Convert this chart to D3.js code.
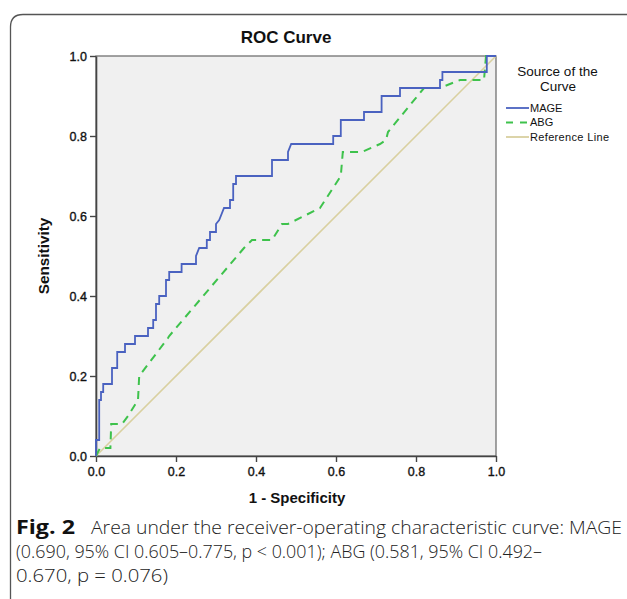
<!DOCTYPE html>
<html><head><meta charset="utf-8">
<script src="https://cdn.jsdelivr.net/npm/d3@7"></script>
<style>
html,body{margin:0;padding:0;background:#fff;}
svg{display:block;}
</style></head>
<body>
<svg id="c" width="627" height="599"></svg>
<script>
// ---- data ----
const mageFpr = [0,0,0.008,0.008,0.0125,0.0125,0.018,0.018,0.04,0.04,0.053,0.053,0.0725,0.0725,0.0975,0.0975,0.13,0.13,0.143,0.143,0.15,0.15,0.158,0.158,0.175,0.175,0.183,0.183,0.214,0.214,0.25,0.25,0.258,0.277,0.277,0.285,0.285,0.30,0.30,0.308,0.32,0.335,0.335,0.343,0.343,0.35,0.35,0.44,0.44,0.48,0.48,0.488,0.593,0.593,0.612,0.612,0.67,0.67,0.714,0.714,0.76,0.76,0.86,0.86,0.866,0.866,0.977,0.977,1];
const mageTpr = [0,0.04,0.04,0.14,0.14,0.16,0.16,0.18,0.18,0.22,0.22,0.26,0.26,0.28,0.28,0.30,0.30,0.32,0.32,0.34,0.34,0.38,0.38,0.40,0.40,0.44,0.44,0.46,0.46,0.48,0.48,0.50,0.52,0.52,0.54,0.54,0.56,0.56,0.58,0.59,0.62,0.62,0.64,0.64,0.68,0.68,0.70,0.70,0.74,0.74,0.76,0.78,0.78,0.80,0.80,0.84,0.84,0.86,0.86,0.90,0.90,0.92,0.92,0.94,0.94,0.96,0.96,1.0,1.0];
const abgFpr = [0,0.01,0.036,0.038,0.065,0.08,0.105,0.108,0.18,0.183,0.37,0.39,0.44,0.465,0.48,0.56,0.612,0.617,0.665,0.71,0.725,0.73,0.82,0.86,0.91,0.97,0.975,1];
const abgTpr = [0,0.02,0.02,0.08,0.08,0.10,0.14,0.20,0.295,0.30,0.52,0.54,0.54,0.58,0.58,0.62,0.70,0.76,0.76,0.78,0.79,0.81,0.92,0.92,0.94,0.94,1.0,1.0];
const refFpr = [0,1];
const refTpr = [0,1];
const tickVals = [0,0.2,0.4,0.6,0.8,1.0];
const seriesNames = ["MAGE","ABG","Reference Line"];
const captionLines = [
  ["Fig. 2", "Area under the receiver-operating characteristic curve: MAGE"],
  ["", "(0.690, 95% CI 0.605\u20130.775, p < 0.001); ABG (0.581, 95% CI 0.492\u2013"],
  ["", "0.670, p = 0.076)"]
];

// ---- layout ----
const svg = d3.select("#c");
const L = 96, R = 496, T = 56, B = 456;
const x = d3.scaleLinear().domain([0,1]).range([L,R]);
const y = d3.scaleLinear().domain([0,1]).range([B,T]);
const sans = "'Liberation Sans', Arial, sans-serif";
const colors = {MAGE:"#4a62c0", ABG:"#3ec24c", ref:"#d9d0a0"};

// outer frame (rounded top-left, open right & bottom)
svg.append("path")
  .attr("d", `M10.5,599 L10.5,27 Q10.5,14.5 23,14.5 L627,14.5`)
  .attr("fill","none").attr("stroke","#555").attr("stroke-width",1.3);

// plot background
svg.append("rect").attr("x",L).attr("y",T).attr("width",R-L).attr("height",B-T)
  .attr("fill","#f0f0f0").attr("stroke","#666").attr("stroke-width",1.2);

// axes
const xAxis = d3.axisBottom(x).tickValues(tickVals).tickFormat(d3.format(".1f")).tickSize(6).tickSizeOuter(0);
const yAxis = d3.axisLeft(y).tickValues(tickVals).tickFormat(d3.format(".1f")).tickSize(6).tickSizeOuter(0);
const gx = svg.append("g").attr("transform",`translate(0,${B})`).call(xAxis);
const gy = svg.append("g").attr("transform",`translate(${L},0)`).call(yAxis);
[gx,gy].forEach(g=>{
  g.select(".domain").attr("stroke","#444").attr("stroke-width",1.6);
  g.selectAll(".tick line").attr("stroke","#444").attr("stroke-width",1.4);
  g.selectAll(".tick text").attr("font-family",sans).attr("font-size",12.5).attr("fill","#111")
    .attr("stroke","#111").attr("stroke-width",0.35);
});
gx.selectAll(".tick text").attr("dy","0.9em");
gy.selectAll(".tick text").attr("x",-9);

// lines
const line = d3.line().x(d=>x(d[0])).y(d=>y(d[1]));
svg.append("path").datum(refFpr.map((v,i)=>[v,refTpr[i]])).attr("d",line)
  .attr("fill","none").attr("stroke",colors.ref).attr("stroke-width",1.6);
svg.append("path").datum(abgFpr.map((v,i)=>[v,abgTpr[i]])).attr("d",line)
  .attr("fill","none").attr("stroke",colors.ABG).attr("stroke-width",2).attr("stroke-dasharray","8,6");
svg.append("path").datum(mageFpr.map((v,i)=>[v,mageTpr[i]])).attr("d",line)
  .attr("fill","none").attr("stroke",colors.MAGE).attr("stroke-width",1.8);

// title
svg.append("text").attr("x",286).attr("y",43).attr("text-anchor","middle")
  .attr("font-family",sans).attr("font-weight","bold").attr("font-size",17).attr("fill","#111").text("ROC Curve");
// axis titles
svg.append("text").attr("x",297).attr("y",503).attr("text-anchor","middle")
  .attr("font-family",sans).attr("font-weight","bold").attr("font-size",15).attr("fill","#111").text("1 - Specificity");
svg.append("text").attr("transform","translate(48.5,256) rotate(-90)").attr("text-anchor","middle")
  .attr("font-family",sans).attr("font-weight","bold").attr("font-size",15.3).attr("fill","#111").text("Sensitivity");

// legend
const lg = svg.append("g");
lg.append("text").attr("x",557.5).attr("y",76).attr("text-anchor","middle")
  .attr("font-family",sans).attr("font-size",13.5).attr("fill","#111").text("Source of the");
lg.append("text").attr("x",558).attr("y",90.5).attr("text-anchor","middle")
  .attr("font-family",sans).attr("font-size",13.5).attr("fill","#111").text("Curve");
const ly = d3.scalePoint().domain(seriesNames).range([108,137]);
const legStyle = {
  "MAGE": {c:colors.MAGE, dash:null, w:1.8},
  "ABG": {c:colors.ABG, dash:"7,7", w:2},
  "Reference Line": {c:colors.ref, dash:null, w:1.8}
};
seriesNames.forEach(n=>{
  const s = legStyle[n];
  lg.append("line").attr("x1",506).attr("x2",529).attr("y1",ly(n)).attr("y2",ly(n))
    .attr("stroke",s.c).attr("stroke-width",s.w).attr("stroke-dasharray",s.dash);
  lg.append("text").attr("x",530).attr("y",ly(n)).attr("dy","0.35em")
    .attr("font-family",sans).attr("font-size",11).attr("fill","#111")
    .attr("textLength", n==="Reference Line"? 79 : null)
    .text(n);
});

// caption
const capFont = "'Open Sans', 'Noto Sans', sans-serif";
const capY = [533.5, 557.5, 581.5];
const capStart = [91, 16, 16];
const capLen = [531, 526, 152];
captionLines.forEach((ln,i)=>{
  if (ln[0]) {
    svg.append("text").attr("x",16).attr("y",capY[i])
      .attr("font-family",capFont).attr("font-size",19).attr("font-weight","bold").attr("fill","#111")
      .attr("textLength",59).attr("lengthAdjust","spacingAndGlyphs").text(ln[0]);
  }
  svg.append("text").attr("x",capStart[i]).attr("y",capY[i])
    .attr("font-family",capFont).attr("font-size",19).attr("font-weight","300").attr("fill","#222")
    .attr("textLength",capLen[i]).attr("lengthAdjust","spacingAndGlyphs").text(ln[1]);
});
</script>
</body></html>
